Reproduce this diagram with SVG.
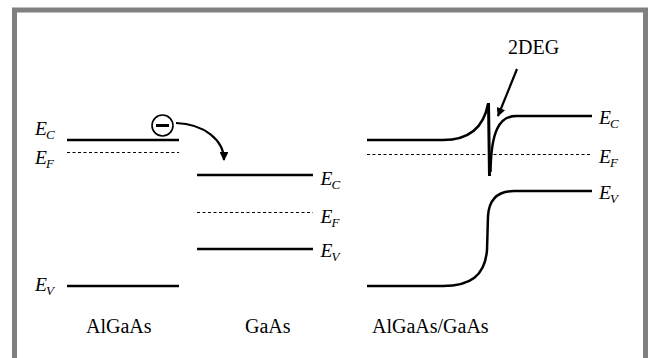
<svg xmlns="http://www.w3.org/2000/svg" width="648" height="358" viewBox="0 0 648 358">
<style>
.band{stroke:#000;stroke-width:2.5;fill:none}
.fermi{stroke:#000;stroke-width:1;stroke-dasharray:3,2.5;fill:none}
.lbl{font-family:"Liberation Serif","Times New Roman",serif;font-size:19.5px;font-style:italic;fill:#000}
.sub{font-size:13px}
.txt{font-family:"Liberation Serif","Times New Roman",serif;font-size:20px;fill:#000}
.conn{stroke:#000;stroke-width:2.2;fill:none}
</style>
<defs>
<marker id="ah" viewBox="0 0 10 10" refX="9" refY="5" markerWidth="4.5" markerHeight="4" orient="auto" markerUnits="strokeWidth">
<path d="M0,0 L10,5 L0,10 z" fill="#000"/>
</marker>
</defs>
<rect x="0" y="0" width="648" height="358" fill="#fff"/>
<rect id="frame" x="14.5" y="10" width="631" height="360" fill="none" stroke="#808080" stroke-width="5"/>

<g id="algaas">
<line class="band" x1="67" y1="140" x2="179" y2="140"/>
<line class="fermi" x1="67" y1="152.5" x2="179" y2="152.5"/>
<line class="band" x1="67" y1="286" x2="179" y2="286"/>
<text class="lbl" x="35" y="134.5">E<tspan class="sub" dx="-1" dy="4">C</tspan></text>
<text class="lbl" x="35" y="164">E<tspan class="sub" dx="-1" dy="4">F</tspan></text>
<text class="lbl" x="35" y="291">E<tspan class="sub" dx="-1" dy="4">V</tspan></text>
<text class="txt" x="86" y="332.5">AlGaAs</text>
</g>

<g id="gaas">
<line class="band" x1="197" y1="175" x2="313" y2="175"/>
<line class="fermi" x1="197" y1="212.5" x2="313" y2="212.5"/>
<line class="band" x1="197" y1="249" x2="313" y2="249"/>
<text class="lbl" x="320.5" y="185">E<tspan class="sub" dx="-1" dy="4">C</tspan></text>
<text class="lbl" x="320.5" y="223">E<tspan class="sub" dx="-1" dy="4">F</tspan></text>
<text class="lbl" x="320.5" y="257">E<tspan class="sub" dx="-1" dy="4">V</tspan></text>
<text class="txt" x="245" y="332.5">GaAs</text>
</g>

<g id="heterojunction">
<path class="band" d="M367,140 L443,140 C466,140 483,131 488,104"/>
<line x1="488.5" y1="103" x2="489.5" y2="176" stroke="#000" stroke-width="3"/>
<path class="band" d="M490.5,172 C491,132 499,116 516,116 L592,116"/>
<line class="fermi" x1="367" y1="154.5" x2="592" y2="154.5"/>
<path class="band" d="M367,286 L443,286 C470,286 485,276 487,250 L488,216 C489,199 498,191 514,191 L592,191"/>
<text class="lbl" x="599" y="124">E<tspan class="sub" dx="-1" dy="4">C</tspan></text>
<text class="lbl" x="599" y="162.5">E<tspan class="sub" dx="-1" dy="4">F</tspan></text>
<text class="lbl" x="599" y="199">E<tspan class="sub" dx="-1" dy="4">V</tspan></text>
<text class="txt" x="372" y="332.5">AlGaAs/GaAs</text>
</g>

<g id="electron">
<circle cx="162.5" cy="125.5" r="10.5" fill="#fff" stroke="#000" stroke-width="1.6"/>
<line x1="156" y1="125.5" x2="169" y2="125.5" stroke="#000" stroke-width="3"/>
</g>

<g id="label-2deg">
<text class="txt" x="508" y="54">2DEG</text>
</g>

<g id="connectors">
<path class="conn" d="M176,123 C204,124 224,140 224,160" marker-end="url(#ah)"/>
<line class="conn" x1="517" y1="69" x2="498" y2="116" marker-end="url(#ah)"/>
</g>
</svg>
